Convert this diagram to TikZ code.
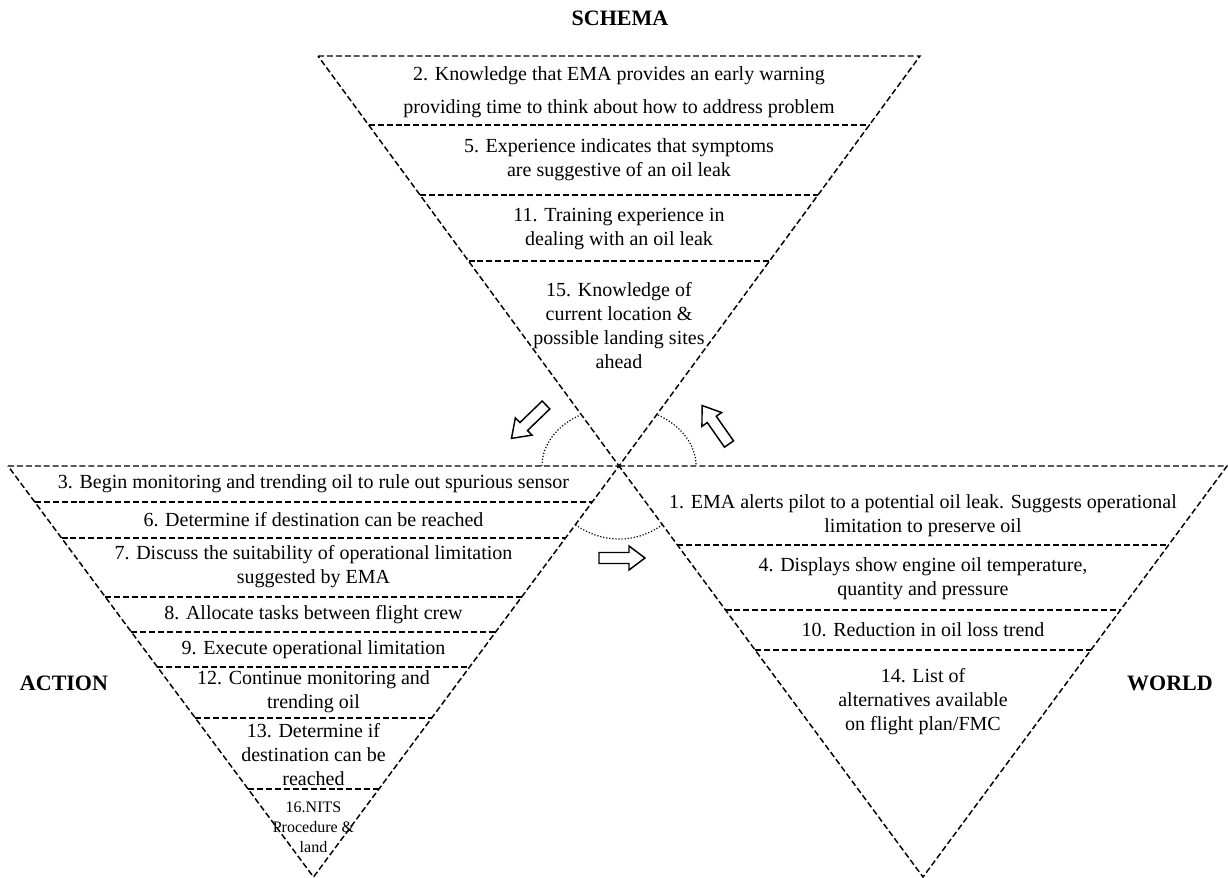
\documentclass[tikz,border=0pt]{standalone}
\usepackage{fontspec}
\setmainfont{Liberation Serif}
\usetikzlibrary{calc}
\begin{document}
\begin{tikzpicture}[x=0.75pt,y=-0.75pt,
  dashln/.style={draw, line width=1.1pt, dash pattern=on 4.5pt off 2.2pt},
  arcline/.style={draw, line width=0.9pt, dash pattern=on 0.9pt off 1.4pt},
  blk/.style={draw, line width=1.1pt, fill=white, line join=miter},
  txt/.style={align=center, inner sep=0pt, font=\fontsize{15}{18}\selectfont},
  smalltxt/.style={align=center, inner sep=0pt, font=\fontsize{12}{15}\selectfont},
  lbl/.style={inner sep=0pt, font=\fontsize{16.5}{20}\selectfont\bfseries}]
\useasboundingbox (0,0) rectangle (1228,878);
% triangle vertices
\coordinate (S1) at (318,56);   \coordinate (S2) at (920,56);   \coordinate (SA) at (619,466);
\coordinate (A1) at (8,466);    \coordinate (A2) at (619,466);  \coordinate (AA) at (313.5,877);
\coordinate (W1) at (619,466);  \coordinate (W2) at (1227,466); \coordinate (WA) at (923,877);
% triangles
\draw[dashln] (S1) -- (S2) -- (SA) -- cycle;
\draw[dashln] (A1) -- (A2) -- (AA) -- cycle;
\draw[dashln] (W1) -- (W2) -- (WA) -- cycle;
% schema dividers
\draw[dashln] (368.7,125) -- (869.3,125);
\draw[dashln] (420.1,195) -- (817.9,195);
\draw[dashln] (468.5,261) -- (769.5,261);
% action dividers
\draw[dashln] (34.8,502) -- (592.2,502);
\draw[dashln] (61.5,538) -- (565.5,538);
\draw[dashln] (105.4,597) -- (521.6,597);
\draw[dashln] (131.4,632) -- (495.6,632);
\draw[dashln] (157.4,667) -- (469.6,667);
\draw[dashln] (195.3,718) -- (431.7,718);
\draw[dashln] (248.1,789) -- (378.9,789);
% world dividers
\draw[dashln] (677.4,545) -- (1168.6,545);
\draw[dashln] (725.5,610) -- (1120.5,610);
\draw[dashln] (755.1,650) -- (1090.9,650);
% dotted arcs
\draw[arcline] ($(SA)+(-77,0)$) arc[start angle=180, end angle=120.4, x radius=57.75pt, y radius=44.25pt];
\draw[arcline] ($(SA)+(39,-50.9)$) arc[start angle=59.6, end angle=0, x radius=57.75pt, y radius=44.25pt];
\draw[arcline] ($(SA)+(-43.5,58.6)$) arc[start angle=233.4, end angle=306.6, radius=54.75pt];
% block arrows
\draw[blk, shift={(546,405)}, rotate=224] (0,-5.5) -- (31,-5.5) -- (31,-12) -- (48,0) -- (31,12) -- (31,5.5) -- (0,5.5) -- cycle;
\draw[blk, shift={(729,444)}, rotate=125] (0,-5.5) -- (30,-5.5) -- (30,-12) -- (47,0) -- (30,12) -- (30,5.5) -- (0,5.5) -- cycle;
\draw[blk, shift={(599,558)}, rotate=0] (0,-5.5) -- (30,-5.5) -- (30,-12) -- (46,0) -- (30,12) -- (30,5.5) -- (0,5.5) -- cycle;
% labels
\node[lbl] (schema) at (620,18) {SCHEMA};
\node[lbl] (action) at (64,683) {ACTION};
\node[lbl] (world) at (1170,683) {WORLD};
% schema texts
\node[txt, font=\fontsize{15}{25}\selectfont] (s2) at (619,92) {2. Knowledge that EMA provides an early warning\\providing time to think about how to address problem};
\node[txt] (s5) at (619,160) {5. Experience indicates that symptoms\\are suggestive of an oil leak};
\node[txt] (s11) at (619,229) {11. Training experience in\\dealing with an oil leak};
\node[txt] (s15) at (619,326) {15. Knowledge of\\current location \&\\possible landing sites\\ahead};
% action texts
\node[txt] (a3) at (313.5,484) {3. Begin monitoring and trending oil to rule out spurious sensor};
\node[txt] (a6) at (313.5,520) {6. Determine if destination can be reached};
\node[txt] (a7) at (313.5,567) {7. Discuss the suitability of operational limitation\\suggested by EMA};
\node[txt] (a8) at (313.5,614.5) {8. Allocate tasks between flight crew};
\node[txt] (a9) at (313.5,649.5) {9. Execute operational limitation};
\node[txt] (a12) at (313.5,691.5) {12. Continue monitoring and\\trending oil};
\node[txt] (a13) at (313.5,755) {13. Determine if\\destination can be\\reached};
\node[smalltxt] (a16) at (313.5,827) {16.NITS\\Procedure \&\\land};
% world texts
\node[txt] (w1) at (923,516) {1. EMA alerts pilot to a potential oil leak. Suggests operational\\limitation to preserve oil};
\node[txt] (w4) at (923,579) {4. Displays show engine oil temperature,\\quantity and pressure};
\node[txt] (w10) at (923,630) {10. Reduction in oil loss trend};
\node[txt] (w14) at (923,702) {14. List of\\alternatives available\\on flight plan/FMC};
\end{tikzpicture}
\end{document}
